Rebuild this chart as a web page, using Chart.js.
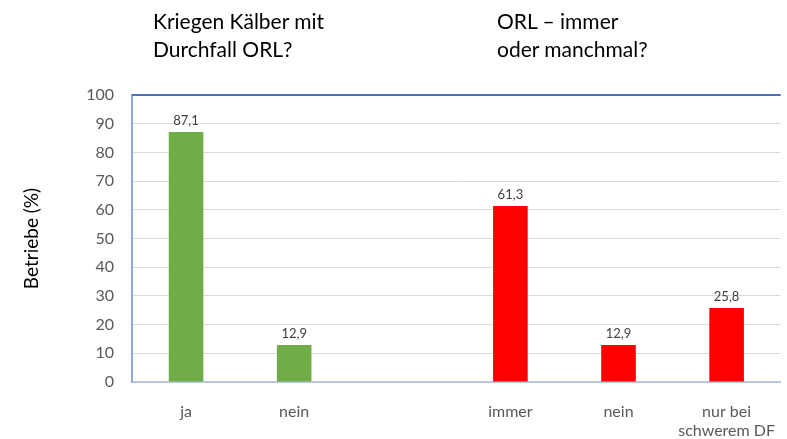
<!DOCTYPE html>
<html>
<head>
<meta charset="utf-8">
<script src="https://cdn.jsdelivr.net/npm/chart.js@4"></script>
<style>
  body { margin: 0; background: #fff; }
  .wrap { position: relative; width: 787px; height: 439px; }
  .ttl { position: absolute; font-family: Lato, "Open Sans", sans-serif; font-size: 21px; line-height: 28px; color: #000; }
</style>
</head>
<body>
<div class="wrap">
  <canvas id="myChart" width="787" height="439"></canvas>
  <div class="ttl" style="left:153px; top:7px;">Kriegen Kälber mit<br>Durchfall ORL?</div>
  <div class="ttl" style="left:497px; top:7px;">ORL – immer<br>oder manchmal?</div>
</div>
<script>
  const categories = ['ja', 'nein', '', 'immer', 'nein', ['nur bei', 'schwerem DF']]
  const values = [87.1, 12.9, null, 61.3, 12.9, 25.8]
  const barColors = ['#70AD47', '#70AD47', '#70AD47', '#FF0000', '#FF0000', '#FF0000']
  const yTicks = [0, 10, 20, 30, 40, 50, 60, 70, 80, 90, 100]

  // value labels above bars + blue top line
  const extras = {
    id: 'extras',
    afterDatasetsDraw(chart) {
      const c = chart.ctx
      const area = chart.chartArea
      c.save()
      c.strokeStyle = '#4472C4'
      c.lineWidth = 2
      c.beginPath()
      c.moveTo(area.left, area.top)
      c.lineTo(area.right, area.top)
      c.stroke()
      c.font = '13px Lato, "Open Sans", sans-serif'
      c.fillStyle = '#404040'
      c.textAlign = 'center'
      c.textBaseline = 'bottom'
      chart.getDatasetMeta(0).data.forEach((bar, i) => {
        if (values[i] == null) return
        c.fillText(String(values[i]).replace('.', ','), bar.x, bar.y - 5)
      })
      c.restore()
    }
  }

  new Chart(document.getElementById('myChart'), {
    type: 'bar',
    data: {
      labels: categories,
      datasets: [{
        data: values,
        backgroundColor: barColors,
        categoryPercentage: 1,
        barPercentage: 0.32
      }]
    },
    options: {
      responsive: false,
      animation: false,
      layout: { padding: { left: 0, right: 0, top: 95, bottom: 0 } },
      scales: {
        x: {
          grid: { display: false },
          border: { color: '#B4C7E7', width: 2 },
          ticks: { color: '#595959', font: { size: 16, family: 'Lato' }, padding: 12, maxRotation: 0 },
          afterFit: s => { s.height = 57 }
        },
        y: {
          min: 0, max: 100,
          afterBuildTicks: s => { s.ticks = yTicks.map(v => ({ value: v })) },
          grid: { color: '#D9D9D9', lineWidth: 1, drawTicks: false },
          border: { color: '#8FAADC', width: 2 },
          ticks: { color: '#595959', font: { size: 16, family: 'Lato' }, padding: 18 },
          title: { display: true, text: 'Betriebe (%)', color: '#000', font: { size: 19, family: 'Lato' }, padding: { top: 20, bottom: 0 } },
          afterFit: s => { s.width = 132 }
        }
      },
      plugins: {
        legend: { display: false },
        tooltip: { enabled: false }
      }
    },
    plugins: [extras]
  })
</script>
</body>
</html>
